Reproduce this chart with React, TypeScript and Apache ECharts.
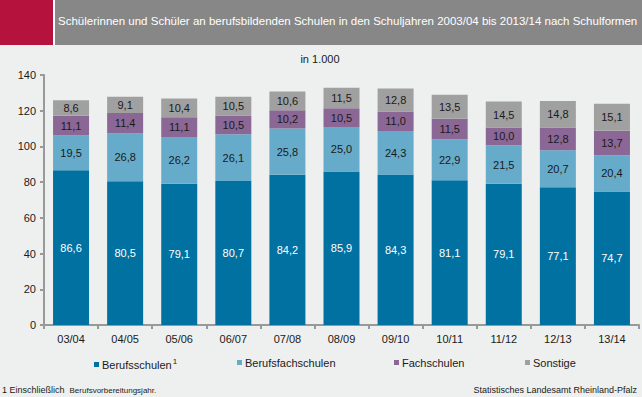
import React, { useEffect, useRef } from "react";
import * as echarts from "echarts";

const categories = ["03/04", "04/05", "05/06", "06/07", "07/08", "08/09", "09/10", "10/11", "11/12", "12/13", "13/14"];
const berufsschulen = [86.6, 80.5, 79.1, 80.7, 84.2, 85.9, 84.3, 81.1, 79.1, 77.1, 74.7];
const berufsfachschulen = [19.5, 26.8, 26.2, 26.1, 25.8, 25.0, 24.3, 22.9, 21.5, 20.7, 20.4];
const fachschulen = [11.1, 11.4, 11.1, 10.5, 10.2, 10.5, 11.0, 11.5, 10.0, 12.8, 13.7];
const sonstige = [8.6, 9.1, 10.4, 10.5, 10.6, 11.5, 12.8, 13.5, 14.5, 14.8, 15.1];
const seriesNames = ["Berufsschulen", "Berufsfachschulen", "Fachschulen", "Sonstige"];
const colors = ["#0071A1", "#67ABCB", "#8B6796", "#A0A0A0"];

const FONT = "Liberation Sans, Arial, sans-serif";

export default function App() {
  const ref = useRef<HTMLDivElement>(null);
  useEffect(() => {
    if (!ref.current) return;
    const chart = echarts.init(ref.current, null, { renderer: "svg" });
    const fmt = (p: any) => String(p.value.toFixed(1)).replace(".", ",");
    const data = [berufsschulen, berufsfachschulen, fachschulen, sonstige];
    const legendX = [94, 237, 394, 525];
    chart.setOption({
      animation: false,
      backgroundColor: "#EEF0EF",
      textStyle: { fontFamily: FONT },
      grid: { left: 44, right: 3, top: 75, bottom: 72 },
      xAxis: {
        type: "category",
        data: categories,
        axisLine: { lineStyle: { color: "#999999", width: 2 } },
        axisTick: { show: true, length: 4, lineStyle: { color: "#999999", width: 2 } },
        axisLabel: { color: "#1a1a1a", fontSize: 11, fontFamily: FONT, margin: 8 },
      },
      yAxis: {
        type: "value",
        min: 0,
        max: 140,
        interval: 20,
        splitLine: { show: false },
        axisLine: { show: true, lineStyle: { color: "#999999", width: 2 } },
        axisTick: { show: true, length: 4, lineStyle: { color: "#999999", width: 2 } },
        axisLabel: { color: "#1a1a1a", fontSize: 11, fontFamily: FONT, margin: 8 },
      },
      legend: seriesNames.map((n, i) => ({
        data: [n],
        left: legendX[i],
        top: 357,
        icon: "rect",
        itemWidth: 5,
        itemHeight: 5,
        itemGap: 0,
        padding: 0,
        selectedMode: false,
        formatter: (name: string) => (name === "Berufsschulen" ? "{n|Berufsschulen}{s|1}" : "{n|" + name + "}"),
        textStyle: {
          fontFamily: FONT,
          fontSize: 11,
          color: "#1a1a1a",
          padding: [0, 0, 0, -2],
          rich: {
            n: { fontSize: 11, fontFamily: FONT, color: "#1a1a1a" },
            s: { fontSize: 8, fontFamily: FONT, color: "#1a1a1a", padding: [0, 0, 7, 1] },
          },
        },
      })),
      series: data.map((d, i) => ({
        name: seriesNames[i],
        type: "bar",
        stack: "total",
        barWidth: 36,
        data: d,
        itemStyle: { color: colors[i] },
        label: {
          show: true,
          position: "inside",
          formatter: fmt,
          fontSize: 11,
          fontFamily: FONT,
          color: i === 0 ? "#ffffff" : "#1a1a1a",
        },
      })),
      graphic: [
        { type: "rect", shape: { x: 0, y: 0, width: 53, height: 45 }, style: { fill: "#B5123E" } },
        { type: "rect", shape: { x: 53, y: 0, width: 2, height: 45 }, style: { fill: "#ffffff" } },
        { type: "rect", shape: { x: 55, y: 0, width: 587, height: 45 }, style: { fill: "#878787" } },
        {
          type: "text",
          x: 58,
          y: 21,
          style: {
            text: "Schülerinnen und Schüler an berufsbildenden Schulen in den Schuljahren 2003/04 bis 2013/14 nach Schulformen",
            fill: "#ffffff",
            fontSize: 11.5,
            fontFamily: FONT,
            verticalAlign: "middle",
          },
        },
        {
          type: "text",
          x: 320,
          y: 59,
          style: { text: "in 1.000", fill: "#1a1a1a", fontSize: 11, fontFamily: FONT, align: "center", verticalAlign: "middle" },
        },
        {
          type: "text",
          x: 2,
          y: 390,
          style: {
            text: "{a|1 Einschließlich  }{b|Berufsvorbereitungsjahr.}",
            verticalAlign: "middle",
            rich: {
              a: { fontSize: 9, fontFamily: FONT, fill: "#1a1a1a" },
              b: { fontSize: 8, fontFamily: FONT, fill: "#1a1a1a" },
            },
          },
        },
        {
          type: "text",
          x: 637,
          y: 390,
          style: {
            text: "Statistisches Landesamt Rheinland-Pfalz",
            fill: "#1a1a1a",
            fontSize: 9,
            fontFamily: FONT,
            align: "right",
            verticalAlign: "middle",
          },
        },
      ],
    });
    return () => chart.dispose();
  }, []);
  return <div ref={ref} style={{ width: 642, height: 397, position: "fixed", left: 0, top: 0 }} />;
}
